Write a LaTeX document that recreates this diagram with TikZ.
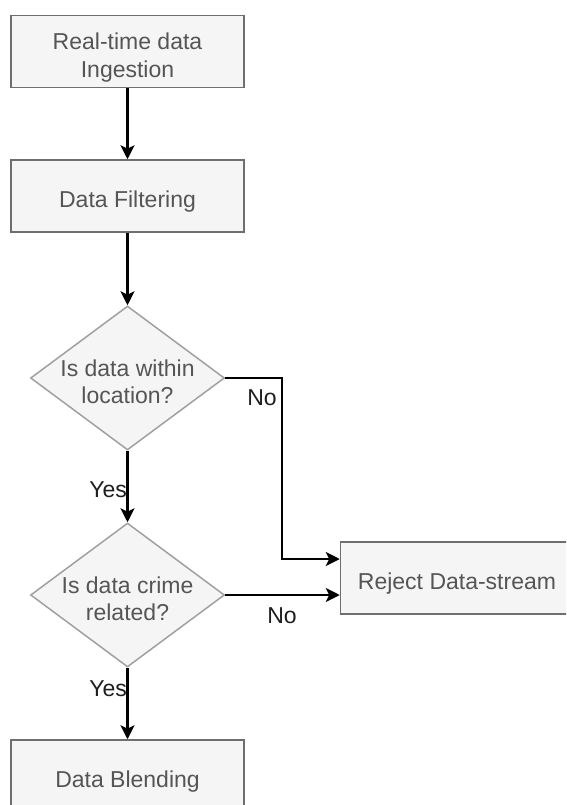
\documentclass[tikz,border=0pt]{standalone}
\usepackage{fontspec}
\setmainfont{Liberation Sans}
\usetikzlibrary{shapes.geometric,arrows.meta}
\definecolor{boxfill}{HTML}{F5F5F5}
\definecolor{boxline}{HTML}{6E6E6E}
\definecolor{dialine}{HTML}{A0A0A0}
\definecolor{boxtext}{HTML}{555555}
\definecolor{lbltext}{HTML}{1E1E1E}
\tikzset{
  stepbox/.style={draw=boxline, fill=boxfill, line width=1.5pt, minimum width=233pt, minimum height=72pt,
    inner sep=0pt},
  decision/.style={diamond, draw=dialine, fill=boxfill, line width=1.5pt, minimum width=194pt, minimum height=144pt,
    inner sep=0pt},
  dtext/.style={align=center, text=boxtext, text depth=0pt, yshift=-3.5pt, font=\fontsize{23}{27.5}\selectfont},
  conn/.style={line width=2.1pt, draw=black, -{Stealth[length=14pt,width=14pt,inset=3.5pt]}},
  lbl/.style={text=lbltext, font=\fontsize{23}{27}\selectfont, inner sep=0pt}
}
\begin{document}
\begin{tikzpicture}[x=1pt,y=-1pt]
\useasboundingbox (0,0) rectangle (566,805);
\clip (0,0) rectangle (566,805);
\node[stepbox, label={[dtext]center:Real-time data\\Ingestion}] (ing) at (127.5,51.5) {};
\node[stepbox, label={[dtext]center:Data Filtering}] (filt) at (127.5,196) {};
\node[decision, label={[dtext]center:Is data within\\location?}] (loc) at (127.5,378) {};
\node[decision, label={[dtext]center:Is data crime\\related?}] (crime) at (127.5,595) {};
\node[stepbox, label={[dtext]center:Reject Data-stream}] (rej) at (457,578) {};
\node[stepbox, label={[dtext]center:Data Blending}] (blend) at (127.5,776) {};

\draw[conn] (ing) -- (filt);
\draw[conn] (filt) -- (loc);
\draw[conn] (loc) -- (crime);
\draw[conn] (crime) -- (blend);
\draw[conn] (loc.east) -- ++(57,0) |- ([yshift=19pt]rej.west);
\draw[conn] (crime.east) -- (crime.east -| rej.west);

\node[lbl, anchor=east] (yes1) at (127,490) {Yes};
\node[lbl, anchor=east] (yes2) at (127,689) {Yes};
\node[lbl] (no1) at (262,398) {No};
\node[lbl] (no2) at (282,616) {No};
\end{tikzpicture}
\end{document}
